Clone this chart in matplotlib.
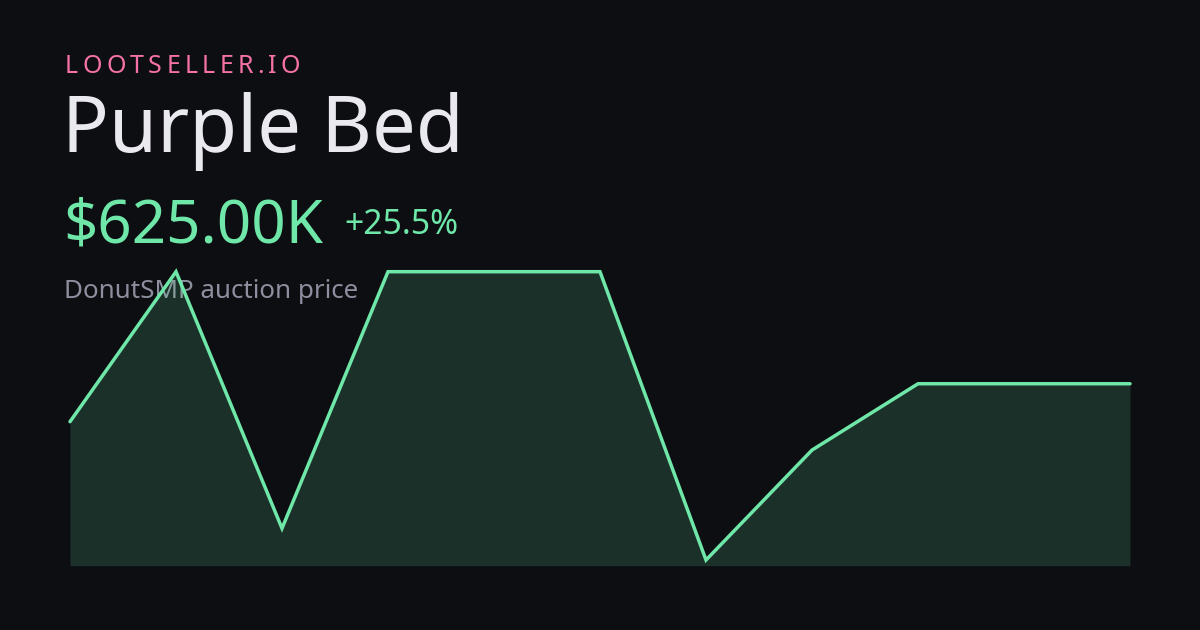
import matplotlib
matplotlib.use("Agg")
import matplotlib.pyplot as plt

# ---- data ----
brand = "LOOTSELLER.IO"
title = "Purple Bed"
price_label = "$625.00K"
change_label = "+25.5%"
subtitle = "DonutSMP auction price"
prices_k = [498, 1000, 141, 1000, 1000, 1000, 35, 403, 625, 625, 625]

BG = "#0d0e12"
GREEN = "#6ee7a8"
PINK = "#f472a6"
WHITE = "#e9e9ef"
GRAY = "#8d8f9e"

W, H = 1200, 630
fig = plt.figure(figsize=(W / 100, H / 100), dpi=100)
fig.patch.set_facecolor(BG)
plt.rcParams['font.family'] = ['Noto Sans', 'DejaVu Sans']

def px(x, y):
    return x / W, 1 - y / H

# axes: x 70..1130, y 271.7..565.7 px
left, right = 70, 1130
top, bottom = 271.7, 565.7
ax = fig.add_axes([left / W, 1 - bottom / H, (right - left) / W, (bottom - top) / H])
ax.set_facecolor("none")
ax.set_zorder(2)
xs = list(range(len(prices_k)))
ax.fill_between(xs, prices_k, 16, color=GREEN, alpha=0.16, linewidth=0)
ax.plot(xs, prices_k, color=GREEN, linewidth=2.5, solid_capstyle="round",
        solid_joinstyle="miter", clip_on=False)
ax.set_xlim(0, len(prices_k) - 1)
ax.set_ylim(16, 1000)
ax.axis("off")

# brand with letter spacing
renderer = fig.canvas.get_renderer()
x = 65.0
for ch in brand:
    t = fig.text(*px(x, 73.3), ch, color=PINK, fontsize=18, va="baseline",
                 ha="left", zorder=1)
    bb = t.get_window_extent(renderer)
    adv = bb.width if ch.strip() else 6
    x += adv + 4.3

fig.text(*px(62.5, 151.7), title, color=WHITE, fontsize=56, va="baseline", ha="left", zorder=1)
fig.text(*px(63.5, 243), price_label, color=GREEN, fontsize=43.2, va="baseline", ha="left", zorder=1)
fig.text(*px(344, 234.3), change_label, color=GREEN, fontsize=24.3, va="baseline", ha="left", zorder=1)
fig.text(*px(64, 297.7), subtitle, color=GRAY, fontsize=18.7, va="baseline", ha="left", zorder=1)

fig.savefig("out.png", dpi=100, facecolor=BG)
